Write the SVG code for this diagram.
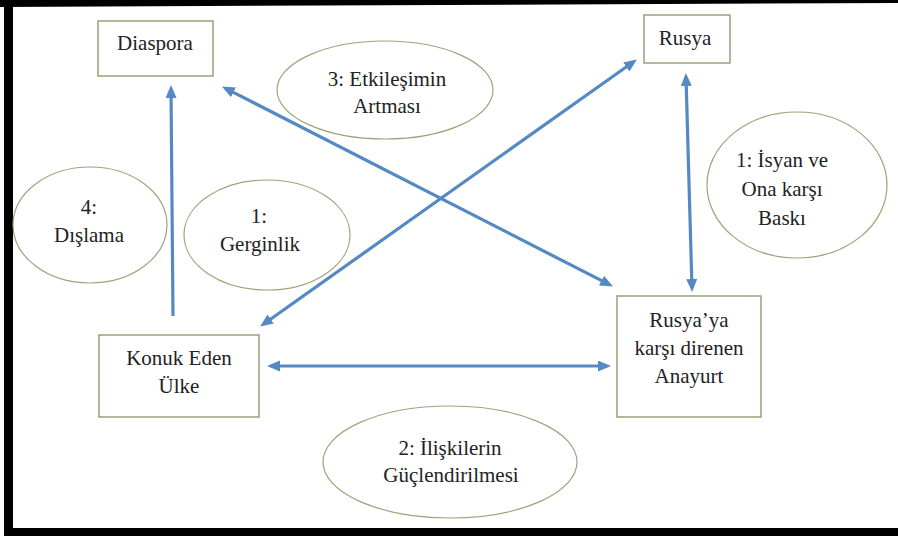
<svg xmlns="http://www.w3.org/2000/svg" width="898" height="538" viewBox="0 0 898 538">
<style>
.box{fill:#ffffff;stroke:#93a277;stroke-width:1.5}
.ell{fill:#ffffff;stroke:#9ea47a;stroke-width:1.2}
.t{font-size:21px;fill:#222222;text-anchor:middle}
.c{fill:none;stroke:#5489c4;stroke-width:3.2}
</style>
<defs>
<marker id="ah" markerUnits="userSpaceOnUse" markerWidth="14" markerHeight="12" refX="9" refY="5.5" orient="auto-start-reverse">
<path d="M0,0 L13,5.5 L0,11 z" fill="#5489c4"/>
</marker>
</defs>
<rect x="0" y="0" width="898" height="538" fill="#ffffff"/>
<g id="frame">
<polygon points="0,0 898,0 898,3 0,7" fill="#000"/>
<rect x="4" y="0" width="9" height="536" fill="#000"/>
<rect x="4" y="528" width="894" height="8" fill="#000"/>
</g>
<g font-family="'Liberation Serif', 'DejaVu Serif', serif">
<g id="ellipses">
<g id="e3"><ellipse class="ell" cx="385" cy="90" rx="108" ry="49"/><text class="t" x="387" y="86">3: Etkileşimin</text><text class="t" x="387" y="113">Artması</text></g>
<g id="e4"><ellipse class="ell" cx="90" cy="225" rx="77" ry="58"/><text class="t" x="89" y="214">4:</text><text class="t" x="89" y="242">Dışlama</text></g>
<g id="e1a"><ellipse class="ell" cx="267" cy="235" rx="83" ry="55"/><text class="t" x="259" y="223">1:</text><text class="t" x="260" y="251">Gerginlik</text></g>
<g id="e1b"><ellipse class="ell" cx="797" cy="185" rx="90" ry="73"/><text class="t" x="782" y="167">1: İsyan ve</text><text class="t" x="782" y="196">Ona karşı</text><text class="t" x="782" y="225">Baskı</text></g>
<g id="e2"><ellipse class="ell" cx="450" cy="462" rx="127" ry="56"/><text class="t" x="450" y="455">2: İlişkilerin</text><text class="t" x="451" y="482">Güçlendirilmesi</text></g>
</g>
<g id="connectors">
<line class="c" x1="173" y1="316" x2="171" y2="89" marker-end="url(#ah)"/>
<line class="c" x1="225.5" y1="88.3" x2="609.5" y2="284.7" marker-start="url(#ah)" marker-end="url(#ah)"/>
<line class="c" x1="263.4" y1="324.3" x2="633.6" y2="61.7" marker-start="url(#ah)" marker-end="url(#ah)"/>
<line class="c" x1="686" y1="77" x2="692" y2="288" marker-start="url(#ah)" marker-end="url(#ah)"/>
<line class="c" x1="271" y1="366" x2="607" y2="366" marker-start="url(#ah)" marker-end="url(#ah)"/>
</g>
<g id="diaspora"><rect class="box" x="98" y="21" width="115" height="55"/><text class="t" x="155" y="50">Diaspora</text></g>
<g id="rusya"><rect class="box" x="644" y="15" width="86" height="48"/><text class="t" x="685" y="45">Rusya</text></g>
<g id="konuk"><rect class="box" x="99" y="335" width="160" height="82"/><text class="t" x="179" y="365">Konuk Eden</text><text class="t" x="179" y="393">Ülke</text></g>
<g id="anayurt"><rect class="box" x="617" y="296" width="144" height="121"/><text class="t" x="689" y="327">Rusya’ya</text><text class="t" x="689" y="355">karşı direnen</text><text class="t" x="689" y="383">Anayurt</text></g>
</g>
</svg>
